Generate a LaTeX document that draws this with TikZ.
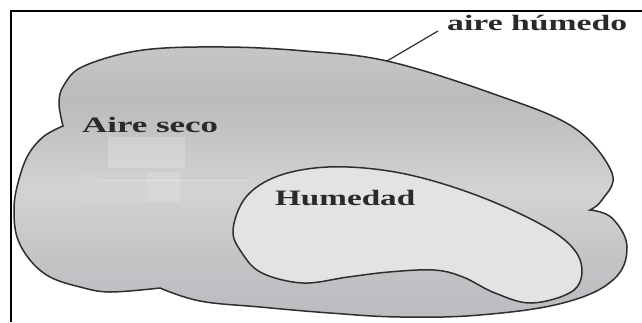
\documentclass[tikz,border=0pt]{standalone}
\usepackage{fontspec}
\setmainfont{Liberation Serif}
\definecolor{sA}{HTML}{BCBCC0}
\definecolor{sB}{HTML}{C3C3C6}
\definecolor{sC}{HTML}{D3D3D6}
\definecolor{sD}{HTML}{BBBBBE}
\definecolor{sE}{HTML}{C6C6C9}
\definecolor{innerfill}{HTML}{E2E3E5}
\definecolor{outline}{HTML}{2E2E2E}
\definecolor{txt}{HTML}{2A2A2A}
\pgfdeclareverticalshading{blobshade}{100bp}{color(0bp)=(sA); color(25bp)=(sA); color(35.3bp)=(sB); color(48.3bp)=(sC); color(65.1bp)=(sD); color(75bp)=(sE); color(100bp)=(sE)}
\newcommand{\wtext}[2]{\resizebox{#1}{\height}{\fontsize{22}{22}\selectfont\bfseries #2}}
\tikzset{
  blobline/.style={draw=outline, line width=1.5pt},
  lbl/.style={inner sep=0pt, anchor=base west, text=txt},
  framel/.style={line width=2.4pt, black},
}
\begin{document}
\begin{tikzpicture}[x=1pt,y=-1pt]
\useasboundingbox (0,0) rectangle (642,322);
\fill[white] (0,0) rectangle (642,322);
% outer blob
\path[blobline, shading=blobshade]
  plot[smooth, tension=0.6] coordinates {(63,126) (59,103) (64,85) (84,66) (143,50) (225,47) (305,51) (387,61) (491,93) (573,127) (612,173) (602,200) (590,210)}
  -- plot[smooth, tension=0.65] coordinates {(590,210) (612,218) (627,247) (613,280) (563,303) (480,315) (400,317) (330,313) (260,307) (200,301) (160,288)}
  -- plot[smooth, tension=0.6] coordinates {(160,288) (110,292) (80,287) (50,277) (30,260) (17,237) (14,210) (17,187) (27,157) (43,137) (63,126)}
  -- cycle;
% faint patches
\fill[white, opacity=0.2] (108,137) rectangle (185,168);
\fill[white, opacity=0.15] (147,172) rectangle (180,202);
\fill[white, opacity=0.06] (80,172) rectangle (147,202);
\draw[white, opacity=0.25, line width=0.8pt] (98,180) -- (250,180);
% inner blob
\path[blobline, fill=innerfill]
  plot[smooth cycle, tension=0.6] coordinates {(233,230) (246,197) (278,176) (328,167) (389,171) (450,186) (512,210) (561,237) (581,263) (574,290) (532,303) (495,293) (463,277) (434,270) (389,272) (348,277) (303,283) (262,273) (242,253)};
% labels
\node[lbl] (aireh) at (447,30) {\wtext{180pt}{aire húmedo}};
\node[lbl] (aires) at (82,132) {\wtext{136pt}{Aire seco}};
\node[lbl] (humed) at (275,205) {\wtext{140pt}{Humedad}};
% leader
\coordinate (leadA) at (387,61);
\coordinate (leadB) at (438,31);
\draw[outline, line width=1.2pt] (leadA) -- (leadB);
% frame
\draw[framel] (10,11) -- (642,11);
\draw[framel] (11,10) -- (11,322);
\end{tikzpicture}
\end{document}
